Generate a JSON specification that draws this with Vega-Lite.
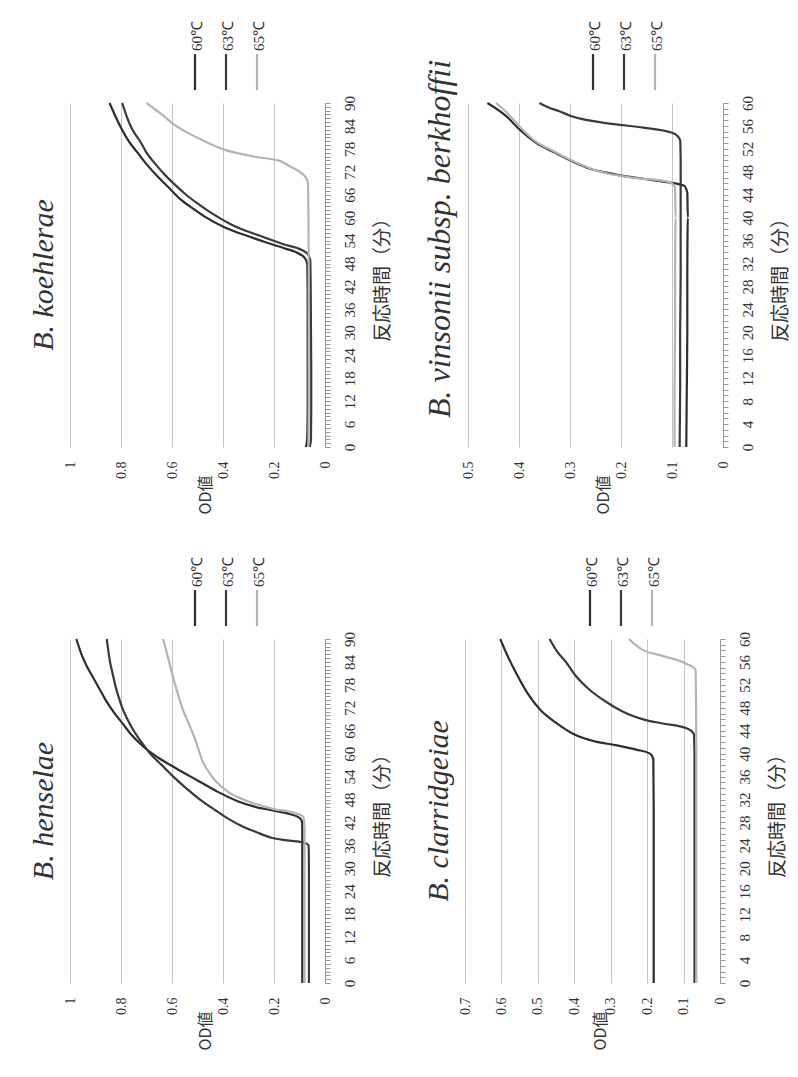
{
  "$schema": "https://vega.github.io/schema/vega-lite/v6.json",
  "background": "white",
  "padding": {"left": 28, "top": 18, "right": 4, "bottom": 4},
  "config": {
    "view": {"stroke": null},
    "font": "Liberation Serif",
    "axis": {"labelFont": "Liberation Serif", "labelColor": "#333", "titleFont": "Noto Sans CJK JP", "titleColor": "#333", "titleFontWeight": "normal", "labelFlush": false, "labelOverlap": false},
    "title": {"font": "Liberation Serif", "fontStyle": "italic", "fontWeight": "normal", "fontSize": 30, "color": "#333", "orient": "left", "anchor": "middle", "offset": 4},
    "legend": {"orient": "none", "direction": "horizontal", "title": null, "padding": 46, "symbolType": "M0,-4.5L0,4.5", "symbolSize": 64, "symbolStrokeWidth": 2.5, "labelFont": "Liberation Serif", "labelFontSize": 15, "labelColor": "#333", "columnPadding": 13, "labelOffset": 0, "legendX": 71.5, "legendY": -84.5}
  },
  "resolve": {"scale": {"color": "independent", "strokeWidth": "independent"}, "legend": {"color": "independent"}},
  "datasets": {
    "koehlerae": [
      {"temp":"60℃","t":0,"od":0.075},{"temp":"60℃","t":2,"od":0.07},{"temp":"60℃","t":10,"od":0.068},{"temp":"60℃","t":20,"od":0.068},{"temp":"60℃","t":30,"od":0.068},{"temp":"60℃","t":40,"od":0.068},{"temp":"60℃","t":48,"od":0.07},{"temp":"60℃","t":49.5,"od":0.08},{"temp":"60℃","t":50.5,"od":0.1},{"temp":"60℃","t":52,"od":0.16},{"temp":"60℃","t":53.5,"od":0.23},{"temp":"60℃","t":55,"od":0.295},{"temp":"60℃","t":57.5,"od":0.395},{"temp":"60℃","t":60,"od":0.465},{"temp":"60℃","t":62.5,"od":0.52},{"temp":"60℃","t":65,"od":0.57},{"temp":"60℃","t":68,"od":0.615},{"temp":"60℃","t":71,"od":0.66},{"temp":"60℃","t":74,"od":0.7},{"temp":"60℃","t":77,"od":0.735},{"temp":"60℃","t":80,"od":0.77},{"temp":"60℃","t":83.5,"od":0.8},{"temp":"60℃","t":87,"od":0.825},{"temp":"60℃","t":90,"od":0.845},
      {"temp":"63℃","t":0,"od":0.06},{"temp":"63℃","t":2,"od":0.055},{"temp":"63℃","t":10,"od":0.054},{"temp":"63℃","t":20,"od":0.054},{"temp":"63℃","t":30,"od":0.055},{"temp":"63℃","t":40,"od":0.056},{"temp":"63℃","t":49,"od":0.058},{"temp":"63℃","t":50.5,"od":0.068},{"temp":"63℃","t":51.5,"od":0.09},{"temp":"63℃","t":53,"od":0.16},{"temp":"63℃","t":55,"od":0.245},{"temp":"63℃","t":58.3,"od":0.37},{"temp":"63℃","t":61,"od":0.44},{"temp":"63℃","t":63.5,"od":0.495},{"temp":"63℃","t":66,"od":0.545},{"temp":"63℃","t":68.7,"od":0.59},{"temp":"63℃","t":71,"od":0.625},{"temp":"63℃","t":74,"od":0.665},{"temp":"63℃","t":77,"od":0.7},{"temp":"63℃","t":80,"od":0.725},{"temp":"63℃","t":83,"od":0.755},{"temp":"63℃","t":86,"od":0.775},{"temp":"63℃","t":90,"od":0.795},
      {"temp":"65℃","t":0,"od":0.065},{"temp":"65℃","t":10,"od":0.064},{"temp":"65℃","t":20,"od":0.064},{"temp":"65℃","t":30,"od":0.064},{"temp":"65℃","t":40,"od":0.064},{"temp":"65℃","t":50,"od":0.064},{"temp":"65℃","t":60,"od":0.065},{"temp":"65℃","t":69,"od":0.067},{"temp":"65℃","t":70.5,"od":0.075},{"temp":"65℃","t":72,"od":0.1},{"temp":"65℃","t":73.5,"od":0.14},{"temp":"65℃","t":74.8,"od":0.175},{"temp":"65℃","t":76,"od":0.28},{"temp":"65℃","t":77.8,"od":0.395},{"temp":"65℃","t":80.9,"od":0.5},{"temp":"65℃","t":84.3,"od":0.59},{"temp":"65℃","t":87,"od":0.64},{"temp":"65℃","t":90,"od":0.7}
    ],
    "henselae": [
      {"temp":"60℃","t":0,"od":0.089},{"temp":"60℃","t":10,"od":0.089},{"temp":"60℃","t":20,"od":0.089},{"temp":"60℃","t":30,"od":0.089},{"temp":"60℃","t":40,"od":0.089},{"temp":"60℃","t":42.2,"od":0.09},{"temp":"60℃","t":43.2,"od":0.1},{"temp":"60℃","t":44.2,"od":0.14},{"temp":"60℃","t":45.2,"od":0.21},{"temp":"60℃","t":46.2,"od":0.28},{"temp":"60℃","t":47.5,"od":0.34},{"temp":"60℃","t":50,"od":0.42},{"temp":"60℃","t":53,"od":0.5},{"temp":"60℃","t":56,"od":0.58},{"temp":"60℃","t":59,"od":0.655},{"temp":"60℃","t":62,"od":0.715},{"temp":"60℃","t":65,"od":0.76},{"temp":"60℃","t":68,"od":0.795},{"temp":"60℃","t":71,"od":0.83},{"temp":"60℃","t":74,"od":0.86},{"temp":"60℃","t":77,"od":0.885},{"temp":"60℃","t":80,"od":0.91},{"temp":"60℃","t":83,"od":0.935},{"temp":"60℃","t":86,"od":0.955},{"temp":"60℃","t":90,"od":0.975},
      {"temp":"63℃","t":0,"od":0.063},{"temp":"63℃","t":10,"od":0.063},{"temp":"63℃","t":20,"od":0.063},{"temp":"63℃","t":30,"od":0.063},{"temp":"63℃","t":36,"od":0.064},{"temp":"63℃","t":36.7,"od":0.08},{"temp":"63℃","t":37.3,"od":0.15},{"temp":"63℃","t":38,"od":0.21},{"temp":"63℃","t":39.5,"od":0.27},{"temp":"63℃","t":41,"od":0.325},{"temp":"63℃","t":43,"od":0.38},{"temp":"63℃","t":45.2,"od":0.43},{"temp":"63℃","t":48,"od":0.49},{"temp":"63℃","t":51,"od":0.545},{"temp":"63℃","t":54,"od":0.595},{"temp":"63℃","t":57,"od":0.64},{"temp":"63℃","t":60,"od":0.685},{"temp":"63℃","t":63,"od":0.72},{"temp":"63℃","t":66,"od":0.75},{"temp":"63℃","t":69,"od":0.775},{"temp":"63℃","t":72,"od":0.795},{"temp":"63℃","t":75,"od":0.81},{"temp":"63℃","t":78,"od":0.823},{"temp":"63℃","t":81,"od":0.833},{"temp":"63℃","t":84,"od":0.843},{"temp":"63℃","t":87,"od":0.85},{"temp":"63℃","t":90,"od":0.856},
      {"temp":"65℃","t":0,"od":0.08},{"temp":"65℃","t":10,"od":0.08},{"temp":"65℃","t":20,"od":0.08},{"temp":"65℃","t":30,"od":0.08},{"temp":"65℃","t":40,"od":0.08},{"temp":"65℃","t":43.5,"od":0.085},{"temp":"65℃","t":44.5,"od":0.12},{"temp":"65℃","t":45.5,"od":0.2},{"temp":"65℃","t":47.5,"od":0.3},{"temp":"65℃","t":50,"od":0.38},{"temp":"65℃","t":54,"od":0.443},{"temp":"65℃","t":58,"od":0.48},{"temp":"65℃","t":63.5,"od":0.508},{"temp":"65℃","t":68,"od":0.535},{"temp":"65℃","t":72,"od":0.56},{"temp":"65℃","t":77,"od":0.583},{"temp":"65℃","t":81,"od":0.6},{"temp":"65℃","t":85,"od":0.615},{"temp":"65℃","t":90,"od":0.635}
    ],
    "vinsonii": [
      {"temp":"60℃","t":0,"od":0.072},{"temp":"60℃","t":10,"od":0.071},{"temp":"60℃","t":20,"od":0.07},{"temp":"60℃","t":30,"od":0.07},{"temp":"60℃","t":40,"od":0.069},{"temp":"60℃","t":44.4,"od":0.07},{"temp":"60℃","t":45.6,"od":0.077},{"temp":"60℃","t":46.2,"od":0.11},{"temp":"60℃","t":46.7,"od":0.15},{"temp":"60℃","t":47.6,"od":0.214},{"temp":"60℃","t":48.5,"od":0.259},{"temp":"60℃","t":49.6,"od":0.29},{"temp":"60℃","t":51.3,"od":0.329},{"temp":"60℃","t":53.1,"od":0.367},{"temp":"60℃","t":55.4,"od":0.399},{"temp":"60℃","t":57.7,"od":0.425},{"temp":"60℃","t":60,"od":0.462},
      {"temp":"63℃","t":0,"od":0.085},{"temp":"63℃","t":10,"od":0.084},{"temp":"63℃","t":20,"od":0.084},{"temp":"63℃","t":30,"od":0.083},{"temp":"63℃","t":40,"od":0.083},{"temp":"63℃","t":50,"od":0.083},{"temp":"63℃","t":53.5,"od":0.084},{"temp":"63℃","t":54.3,"od":0.09},{"temp":"63℃","t":54.8,"od":0.1},{"temp":"63℃","t":55.7,"od":0.156},{"temp":"63℃","t":56.3,"od":0.214},{"temp":"63℃","t":57,"od":0.265},{"temp":"63℃","t":57.7,"od":0.297},{"temp":"63℃","t":58.6,"od":0.322},{"temp":"63℃","t":59.2,"od":0.342},{"temp":"63℃","t":60,"od":0.36},
      {"temp":"65℃","t":0,"od":0.095},{"temp":"65℃","t":10,"od":0.095},{"temp":"65℃","t":20,"od":0.094},{"temp":"65℃","t":30,"od":0.094},{"temp":"65℃","t":40,"od":0.093},{"temp":"65℃","t":45.3,"od":0.094},{"temp":"65℃","t":46.2,"od":0.105},{"temp":"65℃","t":47,"od":0.18},{"temp":"65℃","t":48,"od":0.24},{"temp":"65℃","t":49.5,"od":0.285},{"temp":"65℃","t":51.5,"od":0.33},{"temp":"65℃","t":53.5,"od":0.37},{"temp":"65℃","t":56,"od":0.4},{"temp":"65℃","t":58,"od":0.42},{"temp":"65℃","t":60,"od":0.445}
    ],
    "clarridgeiae": [
      {"temp":"60℃","t":0,"od":0.182},{"temp":"60℃","t":10,"od":0.182},{"temp":"60℃","t":20,"od":0.182},{"temp":"60℃","t":30,"od":0.182},{"temp":"60℃","t":39,"od":0.183},{"temp":"60℃","t":40,"od":0.192},{"temp":"60℃","t":40.7,"od":0.23},{"temp":"60℃","t":41.5,"od":0.287},{"temp":"60℃","t":42.1,"od":0.341},{"temp":"60℃","t":43.2,"od":0.395},{"temp":"60℃","t":45.3,"od":0.448},{"temp":"60℃","t":47.6,"od":0.493},{"temp":"60℃","t":50.6,"od":0.529},{"temp":"60℃","t":54.1,"od":0.56},{"temp":"60℃","t":57.6,"od":0.587},{"temp":"60℃","t":60,"od":0.603},
      {"temp":"63℃","t":0,"od":0.07},{"temp":"63℃","t":10,"od":0.07},{"temp":"63℃","t":20,"od":0.07},{"temp":"63℃","t":30,"od":0.07},{"temp":"63℃","t":40,"od":0.07},{"temp":"63℃","t":43.5,"od":0.072},{"temp":"63℃","t":44.4,"od":0.09},{"temp":"63℃","t":45.3,"od":0.161},{"temp":"63℃","t":45.9,"od":0.206},{"temp":"63℃","t":47.4,"od":0.269},{"temp":"63℃","t":49.1,"od":0.314},{"temp":"63℃","t":51.2,"od":0.359},{"temp":"63℃","t":53.5,"od":0.395},{"temp":"63℃","t":55.9,"od":0.422},{"temp":"63℃","t":57.9,"od":0.448},{"temp":"63℃","t":60,"od":0.468},
      {"temp":"65℃","t":0,"od":0.065},{"temp":"65℃","t":10,"od":0.065},{"temp":"65℃","t":20,"od":0.065},{"temp":"65℃","t":30,"od":0.065},{"temp":"65℃","t":40,"od":0.065},{"temp":"65℃","t":50,"od":0.066},{"temp":"65℃","t":54.7,"od":0.067},{"temp":"65℃","t":55.6,"od":0.09},{"temp":"65℃","t":57.1,"od":0.16},{"temp":"65℃","t":58.2,"od":0.215},{"temp":"65℃","t":59.4,"od":0.24},{"temp":"65℃","t":60,"od":0.25}
    ]
  },
  "spacing": 40,
  "vconcat": [
    {
      "spacing": 31,
      "resolve": {"scale": {"color": "independent", "strokeWidth": "independent"}, "legend": {"color": "independent"}},
      "hconcat": [
        {
          "data": {"name": "koehlerae"},
          "width": 255, "height": 344,
          "title": {"text": "B. koehlerae"},
          "mark": {"type": "line", "interpolate": "monotone", "orient": "horizontal"},
          "encoding": {
            "order": {"field": "t", "type": "quantitative"},
            "x": {"field": "od", "type": "quantitative", "scale": {"domain": [0, 1], "reverse": true, "nice": false},
              "axis": {"values": [0, 0.2, 0.4, 0.6, 0.8, 1], "format": "~g", "title": "OD値", "labelAngle": -90, "titleAngle": -90, "labelFontSize": 14, "labelPadding": 14, "titleFontSize": 16, "titlePadding": 16, "grid": true, "gridColor": "#c4c4c4", "domain": false, "ticks": false}},
            "y": {"field": "t", "type": "quantitative", "scale": {"domain": [0, 90], "nice": false},
              "axis": {"orient": "right", "values": [0,1,2,3,4,5,6,7,8,9,10,11,12,13,14,15,16,17,18,19,20,21,22,23,24,25,26,27,28,29,30,31,32,33,34,35,36,37,38,39,40,41,42,43,44,45,46,47,48,49,50,51,52,53,54,55,56,57,58,59,60,61,62,63,64,65,66,67,68,69,70,71,72,73,74,75,76,77,78,79,80,81,82,83,84,85,86,87,88,89,90], "labelExpr": "datum.value % 6 === 0 ? '' + datum.value : ''", "title": "反応時間（分）", "labelAngle": -90, "titleAngle": -90, "labelFontSize": 15, "labelPadding": 12, "titleFontSize": 19, "titlePadding": 35, "grid": false, "domainColor": "#999", "tickColor": "#999", "tickSize": 5}},
            "color": {"field": "temp", "type": "nominal", "scale": {"domain": ["60℃", "63℃", "65℃"], "range": ["#2e2e2e", "#3a3a3a", "#b4b4b4"]},
              "legend": {"encode": {"labels": {"update": {"angle": {"value": -90}, "align": {"value": "left"}, "baseline": {"value": "middle"}, "dx": {"value": 21}, "dy": {"value": -5.5}}}, "symbols": {"update": {"strokeWidth": {"signal": "datum.value === '65℃' ? 1 : 2.5"}}}}}},
            "strokeWidth": {"field": "temp", "type": "nominal", "scale": {"domain": ["60℃", "63℃", "65℃"], "range": [2.2, 2.2, 1.2]}, "legend": null}
          }
        },
        {
          "data": {"name": "vinsonii"},
          "width": 255, "height": 344,
          "title": {"text": "B. vinsonii subsp. berkhoffii", "dx": 36, "fontSize": 32},
          "mark": {"type": "line", "interpolate": "monotone", "orient": "horizontal"},
          "encoding": {
            "order": {"field": "t", "type": "quantitative"},
            "x": {"field": "od", "type": "quantitative", "scale": {"domain": [0, 0.5], "reverse": true, "nice": false},
              "axis": {"values": [0, 0.1, 0.2, 0.3, 0.4, 0.5], "format": "~g", "title": "OD値", "labelAngle": -90, "titleAngle": -90, "labelFontSize": 14, "labelPadding": 14, "titleFontSize": 16, "titlePadding": 16, "grid": true, "gridColor": "#c4c4c4", "domain": false, "ticks": false}},
            "y": {"field": "t", "type": "quantitative", "scale": {"domain": [0, 60], "nice": false},
              "axis": {"orient": "right", "values": [0,1,2,3,4,5,6,7,8,9,10,11,12,13,14,15,16,17,18,19,20,21,22,23,24,25,26,27,28,29,30,31,32,33,34,35,36,37,38,39,40,41,42,43,44,45,46,47,48,49,50,51,52,53,54,55,56,57,58,59,60], "labelExpr": "datum.value % 4 === 0 ? '' + datum.value : ''", "title": "反応時間（分）", "labelAngle": -90, "titleAngle": -90, "labelFontSize": 15, "labelPadding": 12, "titleFontSize": 19, "titlePadding": 35, "grid": false, "domainColor": "#999", "tickColor": "#999", "tickSize": 5}},
            "color": {"field": "temp", "type": "nominal", "scale": {"domain": ["60℃", "63℃", "65℃"], "range": ["#2e2e2e", "#3a3a3a", "#b4b4b4"]},
              "legend": {"encode": {"labels": {"update": {"angle": {"value": -90}, "align": {"value": "left"}, "baseline": {"value": "middle"}, "dx": {"value": 21}, "dy": {"value": -5.5}}}, "symbols": {"update": {"strokeWidth": {"signal": "datum.value === '65℃' ? 1 : 2.5"}}}}}},
            "strokeWidth": {"field": "temp", "type": "nominal", "scale": {"domain": ["60℃", "63℃", "65℃"], "range": [2.2, 2.2, 1.2]}, "legend": null}
          }
        }
      ]
    },
    {
      "spacing": 31,
      "resolve": {"scale": {"color": "independent", "strokeWidth": "independent"}, "legend": {"color": "independent"}},
      "hconcat": [
        {
          "data": {"name": "henselae"},
          "width": 255, "height": 344,
          "title": {"text": "B. henselae"},
          "mark": {"type": "line", "interpolate": "monotone", "orient": "horizontal"},
          "encoding": {
            "order": {"field": "t", "type": "quantitative"},
            "x": {"field": "od", "type": "quantitative", "scale": {"domain": [0, 1], "reverse": true, "nice": false},
              "axis": {"values": [0, 0.2, 0.4, 0.6, 0.8, 1], "format": "~g", "title": "OD値", "labelAngle": -90, "titleAngle": -90, "labelFontSize": 14, "labelPadding": 14, "titleFontSize": 16, "titlePadding": 16, "grid": true, "gridColor": "#c4c4c4", "domain": false, "ticks": false}},
            "y": {"field": "t", "type": "quantitative", "scale": {"domain": [0, 90], "nice": false},
              "axis": {"orient": "right", "values": [0,1,2,3,4,5,6,7,8,9,10,11,12,13,14,15,16,17,18,19,20,21,22,23,24,25,26,27,28,29,30,31,32,33,34,35,36,37,38,39,40,41,42,43,44,45,46,47,48,49,50,51,52,53,54,55,56,57,58,59,60,61,62,63,64,65,66,67,68,69,70,71,72,73,74,75,76,77,78,79,80,81,82,83,84,85,86,87,88,89,90], "labelExpr": "datum.value % 6 === 0 ? '' + datum.value : ''", "title": "反応時間（分）", "labelAngle": -90, "titleAngle": -90, "labelFontSize": 15, "labelPadding": 12, "titleFontSize": 19, "titlePadding": 35, "grid": false, "domainColor": "#999", "tickColor": "#999", "tickSize": 5}},
            "color": {"field": "temp", "type": "nominal", "scale": {"domain": ["60℃", "63℃", "65℃"], "range": ["#2e2e2e", "#3a3a3a", "#b4b4b4"]},
              "legend": {"encode": {"labels": {"update": {"angle": {"value": -90}, "align": {"value": "left"}, "baseline": {"value": "middle"}, "dx": {"value": 21}, "dy": {"value": -5.5}}}, "symbols": {"update": {"strokeWidth": {"signal": "datum.value === '65℃' ? 1 : 2.5"}}}}}},
            "strokeWidth": {"field": "temp", "type": "nominal", "scale": {"domain": ["60℃", "63℃", "65℃"], "range": [2.2, 2.2, 1.2]}, "legend": null}
          }
        },
        {
          "data": {"name": "clarridgeiae"},
          "width": 255, "height": 344,
          "title": {"text": "B. clarridgeiae"},
          "mark": {"type": "line", "interpolate": "monotone", "orient": "horizontal"},
          "encoding": {
            "order": {"field": "t", "type": "quantitative"},
            "x": {"field": "od", "type": "quantitative", "scale": {"domain": [0, 0.7], "reverse": true, "nice": false},
              "axis": {"values": [0, 0.1, 0.2, 0.3, 0.4, 0.5, 0.6, 0.7], "format": "~g", "title": "OD値", "labelAngle": -90, "titleAngle": -90, "labelFontSize": 14, "labelPadding": 14, "titleFontSize": 16, "titlePadding": 16, "grid": true, "gridColor": "#c4c4c4", "domain": false, "ticks": false}},
            "y": {"field": "t", "type": "quantitative", "scale": {"domain": [0, 60], "nice": false},
              "axis": {"orient": "right", "values": [0,1,2,3,4,5,6,7,8,9,10,11,12,13,14,15,16,17,18,19,20,21,22,23,24,25,26,27,28,29,30,31,32,33,34,35,36,37,38,39,40,41,42,43,44,45,46,47,48,49,50,51,52,53,54,55,56,57,58,59,60], "labelExpr": "datum.value % 4 === 0 ? '' + datum.value : ''", "title": "反応時間（分）", "labelAngle": -90, "titleAngle": -90, "labelFontSize": 15, "labelPadding": 12, "titleFontSize": 19, "titlePadding": 35, "grid": false, "domainColor": "#999", "tickColor": "#999", "tickSize": 5}},
            "color": {"field": "temp", "type": "nominal", "scale": {"domain": ["60℃", "63℃", "65℃"], "range": ["#2e2e2e", "#3a3a3a", "#b4b4b4"]},
              "legend": {"encode": {"labels": {"update": {"angle": {"value": -90}, "align": {"value": "left"}, "baseline": {"value": "middle"}, "dx": {"value": 21}, "dy": {"value": -5.5}}}, "symbols": {"update": {"strokeWidth": {"signal": "datum.value === '65℃' ? 1 : 2.5"}}}}}},
            "strokeWidth": {"field": "temp", "type": "nominal", "scale": {"domain": ["60℃", "63℃", "65℃"], "range": [2.2, 2.2, 1.2]}, "legend": null}
          }
        }
      ]
    }
  ]
}
